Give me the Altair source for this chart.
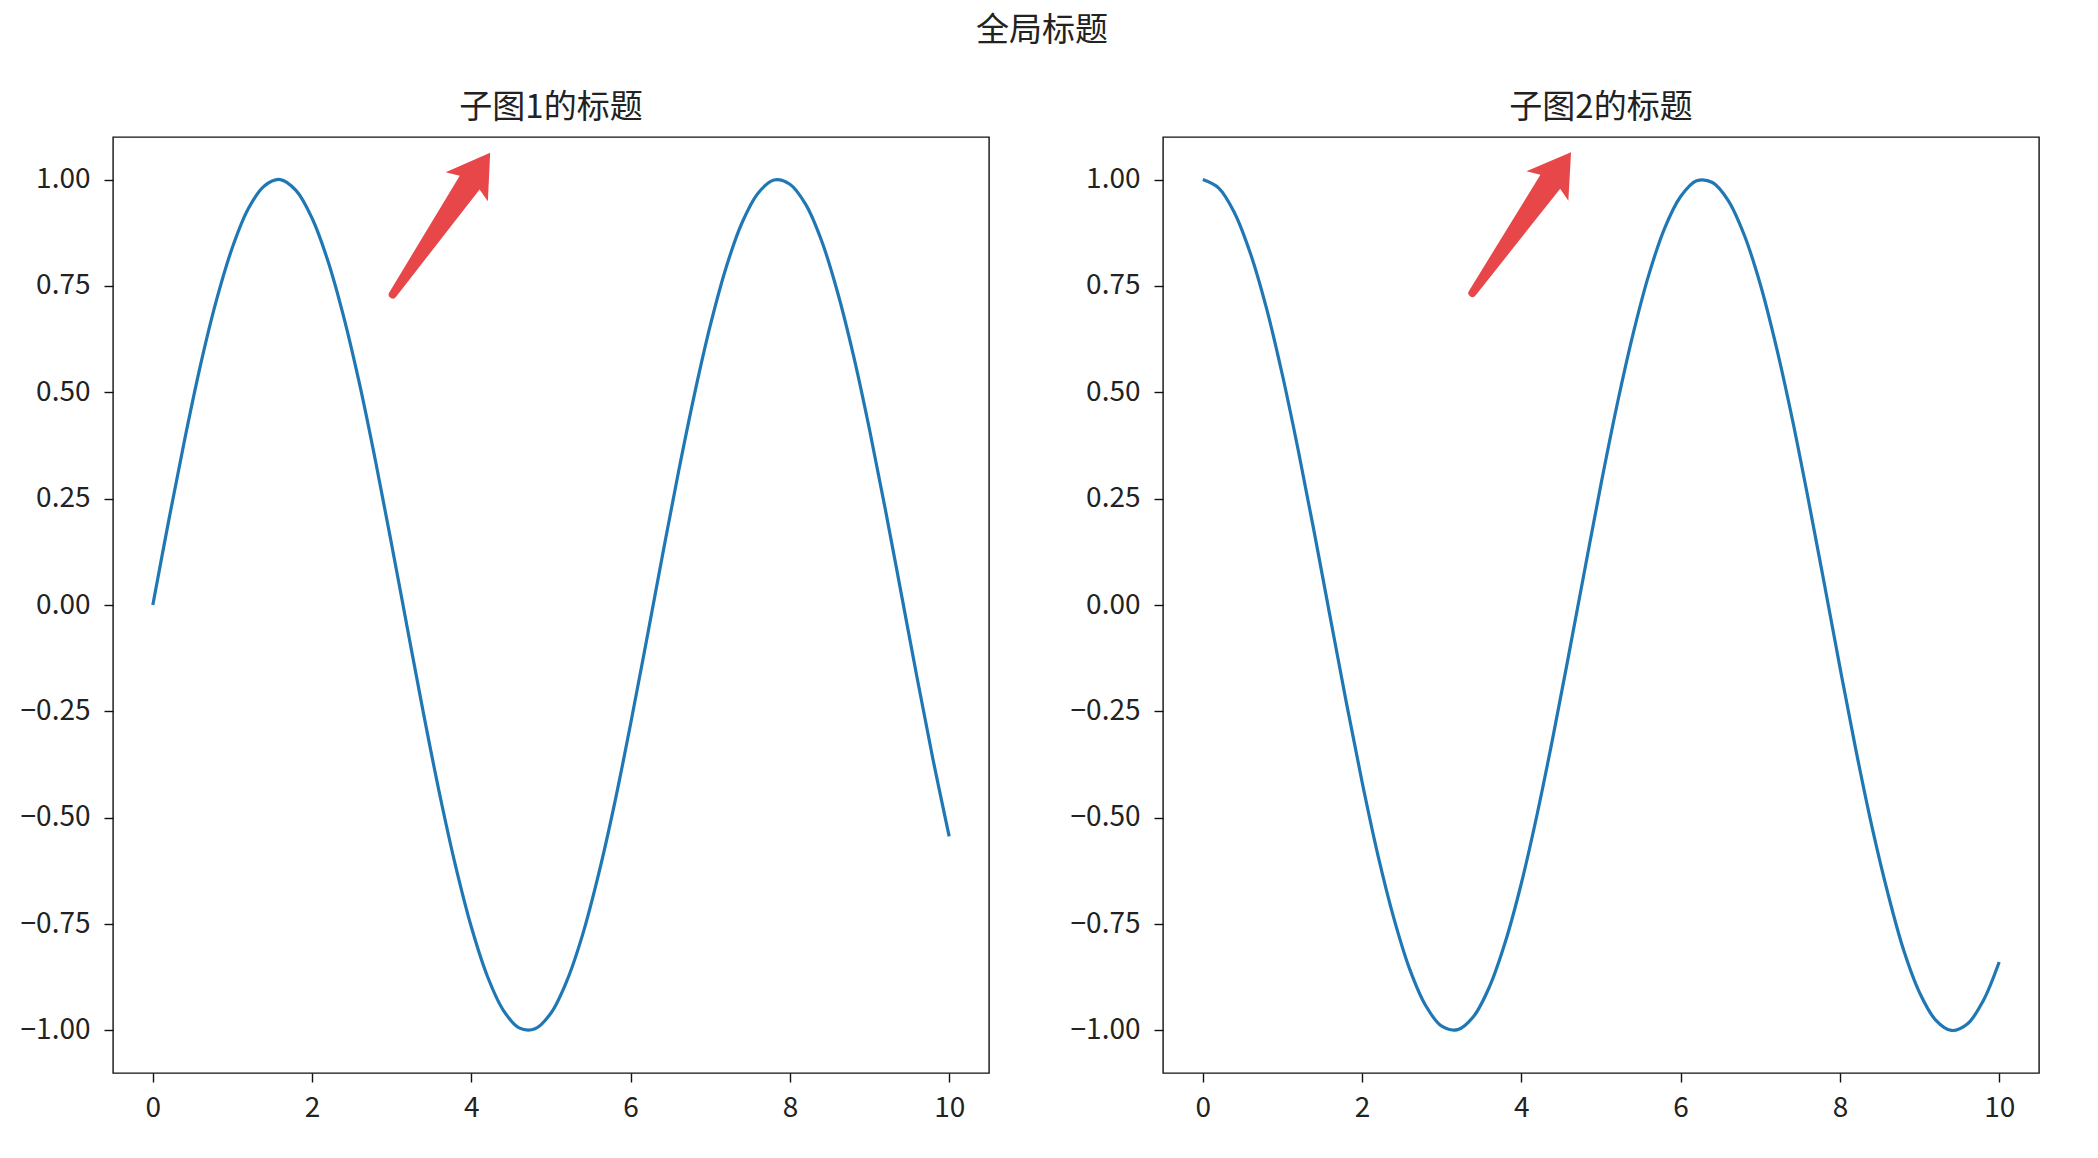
import altair as alt
import pandas as pd

# ---- data ----
x_vals = [0.0, 0.2, 0.4, 0.6, 0.8, 1.0, 1.2, 1.4, 1.6, 1.8,
          2.0, 2.2, 2.4, 2.6, 2.8, 3.0, 3.2, 3.4, 3.6, 3.8,
          4.0, 4.2, 4.4, 4.6, 4.8, 5.0, 5.2, 5.4, 5.6, 5.8,
          6.0, 6.2, 6.4, 6.6, 6.8, 7.0, 7.2, 7.4, 7.6, 7.8,
          8.0, 8.2, 8.4, 8.6, 8.8, 9.0, 9.2, 9.4, 9.6, 9.8, 10.0]

panel1_vals = [0.000, 0.199, 0.389, 0.565, 0.717, 0.841, 0.932, 0.985, 1.000, 0.974,
               0.909, 0.808, 0.675, 0.516, 0.335, 0.141, -0.058, -0.256, -0.443, -0.612,
               -0.757, -0.872, -0.952, -0.994, -0.996, -0.959, -0.883, -0.773, -0.631, -0.465,
               -0.279, -0.083, 0.117, 0.312, 0.494, 0.657, 0.794, 0.899, 0.968, 0.999,
               0.989, 0.941, 0.855, 0.734, 0.585, 0.412, 0.223, 0.025, -0.174, -0.366, -0.544]

panel2_vals = [1.000, 0.980, 0.921, 0.825, 0.697, 0.540, 0.362, 0.170, -0.029, -0.227,
               -0.416, -0.589, -0.737, -0.857, -0.942, -0.990, -0.998, -0.967, -0.897, -0.791,
               -0.654, -0.490, -0.307, -0.112, 0.087, 0.284, 0.469, 0.635, 0.776, 0.886,
               0.960, 0.997, 0.993, 0.950, 0.869, 0.754, 0.608, 0.439, 0.251, 0.054,
               -0.146, -0.340, -0.519, -0.676, -0.811, -0.911, -0.975, -1.000, -0.985, -0.930, -0.839]

panel_titles = ["子图1的标题", "子图2的标题"]
main_title = "全局标题"

# arrow annotations (tail -> tip), one per panel
arrow_tail_x = [3.0, 3.33]
arrow_tail_y = [0.725, 0.72]
arrow_tip_x = [4.22, 4.65]
arrow_tip_y = [1.06, 1.07]
arrow_angle = [34.5, 35.0]

x_ticks = [0, 2, 4, 6, 8, 10]
y_ticks = [-1.0, -0.75, -0.5, -0.25, 0.0, 0.25, 0.5, 0.75, 1.0]
x_domain = [-0.5, 10.5]
y_domain = [-1.1, 1.1]

LINE_COLOR = "#1f77b4"
ARROW_COLOR = "#e8474a"
FONT = "Noto Sans CJK SC"
TEXT_COLOR = "#222222"

# fancy arrow shape pointing up, tip at (0,-1), tail at (0,1)
ARROW_PATH = ("M0,-1 L0.291,-0.531 L0.137,-0.589 L0.046,0.954 "
              "Q0.046,1 0,1 Q-0.046,1 -0.046,0.954 "
              "L-0.137,-0.589 L-0.291,-0.531 Z")


def panel(values, title, i):
    df = pd.DataFrame({"x": x_vals, "y": values})
    adf = pd.DataFrame({
        "x": [(arrow_tail_x[i] + arrow_tip_x[i]) / 2],
        "y": [(arrow_tail_y[i] + arrow_tip_y[i]) / 2],
    })
    xenc = alt.X("x:Q", scale=alt.Scale(domain=x_domain, nice=False, zero=False),
                 axis=alt.Axis(values=x_ticks, format="d", title=None, grid=False, domain=False))
    yenc = alt.Y("y:Q", scale=alt.Scale(domain=y_domain, nice=False, zero=False),
                 axis=alt.Axis(values=y_ticks, format=".2f", title=None, grid=False, domain=False,
                               minExtent=100, maxExtent=100))
    line = alt.Chart(df).mark_line(color=LINE_COLOR, strokeWidth=3.2, interpolate="catmull-rom").encode(
        x=xenc, y=yenc)
    arrow = alt.Chart(adf).mark_point(
        shape=ARROW_PATH, filled=True, color=ARROW_COLOR, opacity=1, strokeWidth=0,
        size=176 * 176, angle=arrow_angle[i]
    ).encode(x=alt.X("x:Q"), y=alt.Y("y:Q"))
    return alt.layer(line, arrow).properties(
        width=876, height=936,
        title=alt.TitleParams(title, frame="group", anchor="middle", offset=12,
                              fontSize=33, font=FONT, fontWeight="normal", color=TEXT_COLOR),
    )


chart = alt.hconcat(
    panel(panel1_vals, panel_titles[0], 0),
    panel(panel2_vals, panel_titles[1], 1),
    spacing=72,
).properties(
    title=alt.TitleParams(main_title, anchor="middle", offset=43, dx=16, fontSize=33, font=FONT,
                          fontWeight="normal", color=TEXT_COLOR),
    padding={"left": 4, "top": 7, "right": 5, "bottom": 5},
).configure_view(
    stroke="#111111", strokeWidth=1.4
).configure_axis(
    labelFont=FONT, labelFontSize=28, labelColor=TEXT_COLOR,
    tickColor="#111111", tickSize=9, tickWidth=1.4,
).configure_axisX(
    labelPadding=12
).configure_axisY(
    labelPadding=14
)

chart.save("out.html", embed_options={"renderer": "svg", "actions": False})
